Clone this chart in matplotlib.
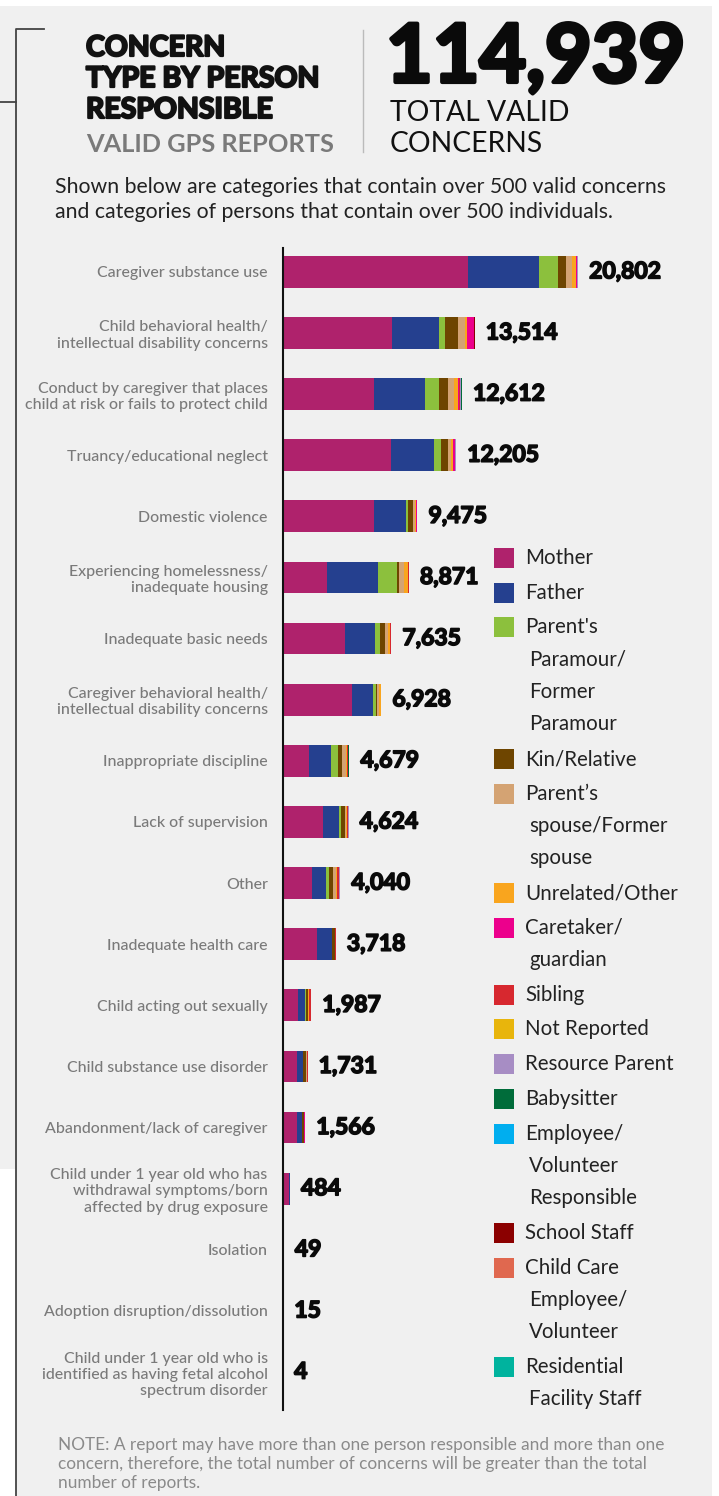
import matplotlib.pyplot as plt
import matplotlib.patheffects as pe
from matplotlib.patches import Rectangle
import numpy as np

# --- data ---
categories = [
    "Caregiver substance use",
    "Child behavioral health/\nintellectual disability concerns",
    "Conduct by caregiver that places\nchild at risk or fails to protect child",
    "Truancy/educational neglect",
    "Domestic violence",
    "Experiencing homelessness/\ninadequate housing",
    "Inadequate basic needs",
    "Caregiver behavioral health/\nintellectual disability concerns",
    "Inappropriate discipline",
    "Lack of supervision",
    "Other",
    "Inadequate health care",
    "Child acting out sexually",
    "Child substance use disorder",
    "Abandonment/lack of caregiver",
    "Child under 1 year old who has\nwithdrawal symptoms/born\naffected by drug exposure",
    "Isolation",
    "Adoption disruption/dissolution",
    "Child under 1 year old who is\nidentified as having fetal alcohol\nspectrum disorder",
]
totals = [20802, 13514, 12612, 12205, 9475, 8871, 7635, 6928, 4679, 4624,
          4040, 3718, 1987, 1731, 1566, 484, 49, 15, 4]

mother       = [13050, 7685, 6415, 7614, 6415, 3102, 4371, 4865, 1833, 2820, 2045, 2397, 1058, 987, 987, 440, 40, 5, 4]
father       = [5000, 3335, 3595, 3030, 2256, 3596, 2115, 1480, 1551, 1128, 987, 1058, 494, 423, 353, 20, 9, 0, 0]
paramour     = [1320, 423, 987, 494, 141, 1361, 353, 211, 494, 141, 211, 30, 40, 30, 0, 0, 0, 0, 0]
kin          = [590, 895, 613, 494, 353, 141, 353, 70, 282, 282, 282, 160, 160, 180, 130, 14, 0, 10, 0]
spouse       = [400, 515, 423, 212, 160, 331, 233, 120, 261, 60, 190, 0, 40, 40, 0, 0, 0, 0, 0]
unrelated    = [280, 92, 282, 162, 30, 261, 110, 182, 100, 100, 90, 0, 30, 40, 40, 5, 0, 0, 0]
caretaker    = [60, 494, 92, 141, 120, 9, 0, 0, 0, 0, 25, 40, 30, 0, 56, 5, 0, 0, 0]
sibling      = [30, 0, 92, 0, 0, 70, 100, 0, 90, 30, 100, 33, 135, 31, 0, 0, 0, 0, 0]
not_reported = [0] * 19
resource     = [40, 60, 80, 58, 0, 0, 0, 0, 0, 63, 110, 0, 0, 0, 0, 0, 0, 0, 0]
babysitter   = [20, 0, 20, 0, 0, 0, 0, 0, 68, 0, 0, 0, 0, 0, 0, 0, 0, 0, 0]
employee     = [5, 0, 10, 0, 0, 0, 0, 0, 0, 0, 0, 0, 0, 0, 0, 0, 0, 0, 0]
school       = [5, 15, 0, 0, 0, 0, 0, 0, 0, 0, 0, 0, 0, 0, 0, 0, 0, 0, 0]
childcare    = [2, 0, 0, 0, 0, 0, 0, 0, 0, 0, 0, 0, 0, 0, 0, 0, 0, 0, 0]
residential  = [0, 0, 3, 0, 0, 0, 0, 0, 0, 0, 0, 0, 0, 0, 0, 0, 0, 0, 0]

series = [mother, father, paramour, kin, spouse, unrelated, caretaker, sibling,
          not_reported, resource, babysitter, employee, school, childcare, residential]
legend_labels = [
    "Mother", "Father", "Parent's\nParamour/\nFormer\nParamour", "Kin/Relative",
    "Parent\u2019s\nspouse/Former\nspouse", "Unrelated/Other", "Caretaker/\nguardian",
    "Sibling", "Not Reported", "Resource Parent", "Babysitter",
    "Employee/\nVolunteer\nResponsible", "School Staff",
    "Child Care\nEmployee/\nVolunteer", "Residential\nFacility Staff",
]
colors = ["#AF226C", "#25408F", "#8CC03D", "#6E4500", "#D4A373", "#F9A51E",
          "#EC008C", "#D7282F", "#E8B50C", "#A78DC4", "#006C3A", "#00AEEF",
          "#8B0000", "#E0684F", "#00B39E"]

plt.rcParams['font.family'] = ['Lato', 'DejaVu Sans']


def heavy(w, col="#0A0A0A"):
    # thicken the bold face a little, to look like the black weight
    return [pe.withStroke(linewidth=w, foreground=col)]


W, H = 719, 1496
fig = plt.figure(figsize=(W / 100, H / 100), dpi=100)
fig.patch.set_facecolor("white")

# background / decoration axes in pixel coords
bg = fig.add_axes([0, 0, 1, 1])
bg.set_xlim(0, W)
bg.set_ylim(H, 0)
bg.axis("off")
bg.add_patch(Rectangle((0, 6), 712, H - 6, color="#F0F0F0", lw=0))
bg.add_patch(Rectangle((0, 1169), 16, H - 1169, color="white", lw=0))
bg.plot([16, 16, 44], [H, 29, 29], color="#444444", lw=1.3)
bg.plot([0, 16], [102, 102], color="#444444", lw=1.3)
bg.plot([363, 363], [30, 152], color="#BBBBBB", lw=1)

# header
for txt, y in [("CONCERN", 56), ("TYPE BY PERSON", 87), ("RESPONSIBLE", 118)]:
    bg.text(86, y, txt, fontsize=20.5, fontweight="bold", color="#111111", va="baseline",
            path_effects=heavy(1.6, "#111111"))
bg.text(86, 152, "VALID GPS REPORTS", fontsize=18.3, fontweight="bold", color="#7A7A7A",
        va="baseline")
bg.text(386, 82, "114,939", fontsize=58, fontweight="bold", color="#0A0A0A", va="baseline",
        path_effects=heavy(3))
bg.text(390, 121, "TOTAL VALID", fontsize=20.3, color="#111111", va="baseline")
bg.text(390, 152, "CONCERNS", fontsize=20.3, color="#111111", va="baseline")
bg.text(55, 193, "Shown below are categories that contain over 500 valid concerns",
        fontsize=15.3, color="#222222", va="baseline")
bg.text(55, 218, "and categories of persons that contain over 500 individuals.",
        fontsize=15.3, color="#222222", va="baseline")

# note
note = ["NOTE: A report may have more than one person responsible and more than one",
        "concern, therefore, the total number of concerns will be greater than the total",
        "number of reports."]
for k, ln in enumerate(note):
    bg.text(58, 1450 + 19 * k, ln, fontsize=12.4, color="#8A8A8A", va="baseline")

# legend
y = 558
for lab, col in zip(legend_labels, colors):
    bg.add_patch(Rectangle((494, y - 10), 20, 20, color=col, lw=0))
    lines = lab.split("\n")
    for k, ln in enumerate(lines):
        bg.text(525 if k == 0 else 529, y, ln, fontsize=14.8, color="#222222", va="center")
        if k < len(lines) - 1:
            y += 32.3
    y += 34.7

# bar axes
ax_left, ax_top, ax_bot = 283, 248, 1410
ax = fig.add_axes([ax_left / W, 1 - ax_bot / H, (W - ax_left) / W, (ax_bot - ax_top) / H])
ax.set_facecolor("none")
n = len(categories)
ypos = np.arange(n)
left = np.zeros(n)
for vals, col in zip(series, colors):
    vals = np.array(vals, dtype=float)
    ax.barh(ypos, vals, left=left, height=0.52, color=col, lw=0)
    left += vals

for i, t in enumerate(totals):
    ax.annotate(f"{t:,}", (left[i], i), xytext=(8, 0), textcoords="offset points",
                va="center", ha="left", fontsize=16.5, fontweight="bold", color="#0A0A0A",
                path_effects=heavy(1.2))

ax.set_xlim(0, (W - ax_left) * 70.5)
ax.set_ylim(n - 0.38, -0.39)
ax.set_yticks(ypos)
ax.set_yticklabels(categories, fontsize=11.4, color="#7A7A7A", linespacing=1.2,
                   fontweight="medium")
ax.tick_params(axis="y", length=0, pad=11)
ax.set_xticks([])
for s in ["top", "right", "bottom"]:
    ax.spines[s].set_visible(False)
ax.spines["left"].set_linewidth(1.5)
ax.spines["left"].set_color("#111111")

fig.savefig("out.png", dpi=100)
